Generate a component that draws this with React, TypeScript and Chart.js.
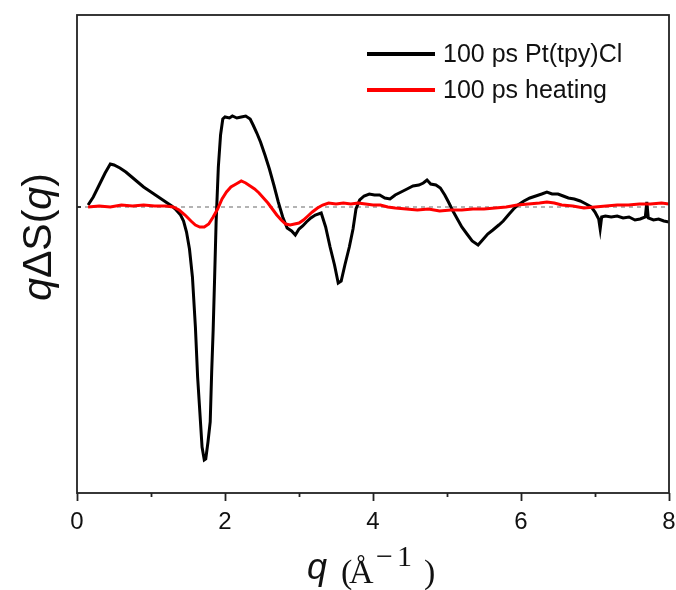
import React, { useEffect, useRef } from "react";
import { Chart, registerables } from "chart.js";

Chart.register(...registerables);

// ---- data ----
const qBlack = [
  0.15, 0.22, 0.3, 0.38, 0.45, 0.5, 0.58, 0.66, 0.74, 0.82, 0.9, 0.98, 1.06, 1.14, 1.22, 1.28, 1.34, 1.4,
  1.44, 1.48, 1.52, 1.56, 1.6, 1.63, 1.66, 1.69, 1.72, 1.74, 1.77, 1.8, 1.82, 1.84, 1.86, 1.88, 1.91, 1.94,
  1.97, 2.0, 2.06, 2.1, 2.16, 2.22, 2.28, 2.34, 2.38, 2.43, 2.48, 2.54, 2.6, 2.66, 2.72, 2.78, 2.84, 2.9,
  2.95, 3.0, 3.05, 3.1, 3.16, 3.22, 3.3, 3.36, 3.42, 3.48, 3.53, 3.57, 3.62, 3.68, 3.73, 3.77, 3.82, 3.88,
  3.95, 4.02, 4.09, 4.16, 4.23, 4.3, 4.38, 4.46, 4.54, 4.62, 4.68, 4.73, 4.78, 4.85, 4.91, 4.97, 5.02, 5.08,
  5.14, 5.2, 5.27, 5.34, 5.42, 5.48, 5.55, 5.62, 5.7, 5.76, 5.84, 5.9, 5.96, 6.04, 6.12, 6.2, 6.28, 6.35,
  6.42, 6.5, 6.57, 6.64, 6.72, 6.8, 6.88, 6.95, 7.0, 7.05, 7.07, 7.09, 7.14, 7.22, 7.3, 7.38, 7.46, 7.54,
  7.61, 7.68, 7.7, 7.72, 7.79, 7.86, 7.93, 8.0,
];
const vBlack = [
  0.02, 0.1, 0.22, 0.34, 0.43, 0.42, 0.39, 0.35, 0.3, 0.25, 0.2, 0.16, 0.12, 0.08, 0.04, 0.01, -0.03, -0.08,
  -0.14, -0.25, -0.42, -0.7, -1.2, -1.7, -2.05, -2.4, -2.53, -2.52, -2.35, -2.15, -1.65, -1.23, -0.7, -0.15, 0.4, 0.72,
  0.88, 0.9, 0.89, 0.91, 0.89, 0.9, 0.91, 0.88, 0.82, 0.74, 0.65, 0.52, 0.38, 0.22, 0.05, -0.1, -0.21, -0.24,
  -0.28, -0.22, -0.19, -0.15, -0.11, -0.08, -0.06, -0.2, -0.4, -0.58, -0.76, -0.74, -0.58, -0.4, -0.22, -0.02, 0.07, 0.11,
  0.13, 0.12, 0.12, 0.09, 0.08, 0.12, 0.15, 0.18, 0.21, 0.22, 0.24, 0.27, 0.23, 0.22, 0.19, 0.12, 0.05, -0.04,
  -0.12, -0.2, -0.27, -0.34, -0.38, -0.33, -0.27, -0.23, -0.18, -0.14, -0.07, -0.02, 0.02, 0.06, 0.09, 0.11, 0.13, 0.15,
  0.13, 0.13, 0.11, 0.09, 0.08, 0.06, 0.03, 0.0, -0.05, -0.12, -0.22, -0.1, -0.09, -0.1, -0.09, -0.11, -0.1, -0.13,
  -0.12, -0.1, 0.05, -0.11, -0.13, -0.12, -0.14, -0.15,
];
const qRed = [
  0.15, 0.3, 0.45, 0.6, 0.75, 0.9, 1.05, 1.2, 1.3, 1.38, 1.46, 1.54, 1.6, 1.66, 1.72, 1.78, 1.84, 1.9,
  1.96, 2.02, 2.08, 2.15, 2.22, 2.28, 2.34, 2.4, 2.46, 2.52, 2.58, 2.64, 2.7, 2.76, 2.82, 2.88, 2.94, 3.0,
  3.06, 3.12, 3.18, 3.25, 3.32, 3.4, 3.5, 3.6, 3.7, 3.8, 3.9, 4.0, 4.1, 4.2, 4.3, 4.45, 4.6, 4.75,
  4.9, 5.05, 5.2, 5.35, 5.5, 5.65, 5.8, 5.95, 6.1, 6.25, 6.35, 6.45, 6.55, 6.7, 6.85, 7.0, 7.15, 7.3,
  7.45, 7.6, 7.75, 7.9, 8.0,
];
const vRed = [
  0.0, 0.01, 0.0, 0.02, 0.01, 0.02, 0.01, 0.01, 0.0, -0.03, -0.08, -0.14, -0.18, -0.2, -0.2, -0.17, -0.1, -0.02,
  0.08, 0.15, 0.2, 0.23, 0.26, 0.24, 0.21, 0.18, 0.14, 0.09, 0.04, -0.02, -0.08, -0.13, -0.17, -0.18, -0.17, -0.16,
  -0.13, -0.09, -0.05, -0.01, 0.02, 0.04, 0.03, 0.04, 0.03, 0.04, 0.03, 0.02, 0.02, 0.0, -0.01, -0.02, -0.03, -0.02,
  -0.04, -0.03, -0.03, -0.02, -0.02, -0.01, 0.0, 0.02, 0.03, 0.04, 0.05, 0.04, 0.02, 0.01, -0.01, 0.0, 0.01, 0.02,
  0.02, 0.03, 0.03, 0.04, 0.03,
];
const seriesLabels = ["100 ps Pt(tpy)Cl", "100 ps heating"];
const seriesColors = ["#000000", "#ff0000"];
const xMin = 0;
const xMax = 8;
const yMin = -2.86;
const yMax = 1.92;

const SANS = "'Liberation Sans', Arial, sans-serif";
const SERIF = "'Liberation Serif', 'Times New Roman', serif";

const decorPlugin = {
  id: "decor",
  beforeDatasetsDraw(chart: any) {
    const { ctx, chartArea: a, scales } = chart;
    const y0 = scales.y.getPixelForValue(0);
    ctx.save();
    ctx.strokeStyle = "#8a8a8a";
    ctx.lineWidth = 1.3;
    ctx.setLineDash([4, 4]);
    ctx.beginPath();
    ctx.moveTo(a.left, y0);
    ctx.lineTo(a.right, y0);
    ctx.stroke();
    ctx.restore();
  },
  afterDraw(chart: any) {
    const { ctx, chartArea: a, scales } = chart;
    const xs = scales.x;
    ctx.save();
    // frame
    ctx.strokeStyle = "#222";
    ctx.lineWidth = 1.8;
    ctx.strokeRect(a.left, a.top, a.right - a.left, a.bottom - a.top);
    // x ticks
    for (let v = xMin; v <= xMax; v++) {
      const px = Math.round(xs.getPixelForValue(v)) + 0.5;
      const len = v % 2 === 0 ? 8 : 4;
      ctx.beginPath();
      ctx.moveTo(px, a.bottom);
      ctx.lineTo(px, a.bottom + len);
      ctx.stroke();
    }
    // y zero tick (inward)
    const y0 = scales.y.getPixelForValue(0);
    ctx.beginPath();
    ctx.moveTo(a.left, y0);
    ctx.lineTo(a.left + 4, y0);
    ctx.stroke();

    // legend
    ctx.textBaseline = "middle";
    ctx.textAlign = "left";
    ctx.font = `25px ${SANS}`;
    const legY = [54, 90];
    for (let i = 0; i < seriesLabels.length; i++) {
      ctx.strokeStyle = seriesColors[i];
      ctx.lineWidth = 4;
      ctx.beginPath();
      ctx.moveTo(367, legY[i]);
      ctx.lineTo(435, legY[i]);
      ctx.stroke();
      ctx.fillStyle = "#111";
      ctx.fillText(seriesLabels[i], 443, legY[i] + 1);
    }

    // x title: q (Å^-1)
    ctx.textBaseline = "alphabetic";
    ctx.fillStyle = "#111";
    ctx.font = `italic 36px ${SANS}`;
    ctx.fillText("q", 307, 579);
    ctx.font = `34px ${SERIF}`;
    ctx.fillText("(", 341, 583);
    ctx.fillText("Å", 349, 583);
    ctx.font = `30px ${SERIF}`;
    ctx.fillText("−", 376, 566);
    ctx.fillText("1", 397, 566);
    ctx.font = `34px ${SERIF}`;
    ctx.fillText(")", 424, 583);

    // y title: qΔS(q)
    ctx.translate(51, 237);
    ctx.rotate(-Math.PI / 2);
    const parts: [string, boolean][] = [
      ["q", true],
      ["ΔS(", false],
      ["q", true],
      [")", false],
    ];
    const yFont = 41;
    let total = 0;
    for (const [t, it] of parts) {
      ctx.font = `${it ? "italic " : ""}${yFont}px ${SANS}`;
      total += ctx.measureText(t).width;
    }
    let cx = -total / 2;
    for (const [t, it] of parts) {
      ctx.font = `${it ? "italic " : ""}${yFont}px ${SANS}`;
      ctx.fillText(t, cx, 0);
      cx += ctx.measureText(t).width;
    }
    ctx.restore();
  },
};

export default function App() {
  const ref = useRef<HTMLCanvasElement | null>(null);
  useEffect(() => {
    if (!ref.current) return;
    const chart = new Chart(ref.current, {
      type: "line",
      data: {
        datasets: [
          {
            label: seriesLabels[1],
            data: qRed.map((q, i) => ({ x: q, y: vRed[i] })),
            borderColor: seriesColors[1],
            borderWidth: 3,
            pointRadius: 0,
            tension: 0,
            order: 0,
          },
          {
            label: seriesLabels[0],
            data: qBlack.map((q, i) => ({ x: q, y: vBlack[i] })),
            borderColor: seriesColors[0],
            borderWidth: 3,
            pointRadius: 0,
            tension: 0,
            order: 1,
          },
        ],
      },
      options: {
        animation: false,
        responsive: false,
        devicePixelRatio: 1,
        layout: { padding: { left: 77, right: 7, top: 15, bottom: 0 } },
        plugins: { legend: { display: false }, tooltip: { enabled: false } },
        scales: {
          x: {
            type: "linear",
            min: xMin,
            max: xMax,
            grid: { display: false },
            border: { display: false },
            afterFit: (s: any) => {
              s.height = 97;
              s.paddingLeft = 0;
              s.paddingRight = 0;
            },
            ticks: {
              stepSize: 1,
              autoSkip: false,
              maxRotation: 0,
              padding: 7,
              color: "#111",
              font: { family: SANS, size: 24 },
              callback: (v: any) => (Number(v) % 2 === 0 ? String(v) : ""),
            },
          },
          y: { display: false, min: yMin, max: yMax },
        },
      },
      plugins: [decorPlugin],
    });
    return () => chart.destroy();
  }, []);
  return (
    <div style={{ position: "fixed", left: 0, top: 0, width: 676, height: 590, background: "#fff" }}>
      <canvas ref={ref} width={676} height={590} style={{ display: "block" }} />
    </div>
  );
}
